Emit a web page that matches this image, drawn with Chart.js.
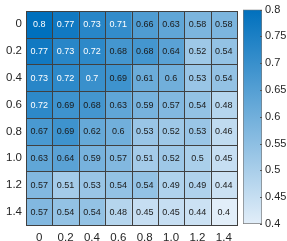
<!DOCTYPE html>
<html><head><meta charset="utf-8">
<script src="https://cdn.jsdelivr.net/npm/chart.js@4/dist/chart.umd.min.js"></script>
<style>
html,body{margin:0;padding:0;background:#fff;width:287px;height:241px;overflow:hidden}
#hm{position:absolute;left:0;top:0}
#cb{position:absolute;left:236px;top:0}
</style></head><body>
<canvas id="hm" width="240" height="241"></canvas>
<canvas id="cb" width="51" height="241"></canvas>
<script>
const colLabels = ['0','0.2','0.4','0.6','0.8','1.0','1.2','1.4'];
const rowLabels = ['0','0.2','0.4','0.6','0.8','1.0','1.2','1.4'];
const row_00 = [0.8, 0.77, 0.73, 0.71, 0.66, 0.63, 0.58, 0.58];
const row_02 = [0.77, 0.73, 0.72, 0.68, 0.68, 0.64, 0.52, 0.54];
const row_04 = [0.73, 0.72, 0.7, 0.69, 0.61, 0.6, 0.53, 0.54];
const row_06 = [0.72, 0.69, 0.68, 0.63, 0.59, 0.57, 0.54, 0.48];
const row_08 = [0.67, 0.69, 0.62, 0.6, 0.53, 0.52, 0.53, 0.46];
const row_10 = [0.63, 0.64, 0.59, 0.57, 0.51, 0.52, 0.5, 0.45];
const row_12 = [0.57, 0.51, 0.53, 0.54, 0.54, 0.49, 0.49, 0.44];
const row_14 = [0.57, 0.54, 0.54, 0.48, 0.45, 0.45, 0.44, 0.4];
const rows = [row_00, row_02, row_04, row_06, row_08, row_10, row_12, row_14];
const cbTicks = [0.4, 0.45, 0.5, 0.55, 0.6, 0.65, 0.7, 0.75, 0.8];

const vMin = 0.4, vMax = 0.8;
const cLow = [226, 238, 249], cHigh = [0, 112, 189];
function colorFor(v) {
  const t = Math.max(0, Math.min(1, (v - vMin) / (vMax - vMin)));
  const c = cLow.map((l, k) => Math.round(l + (cHigh[k] - l) * t));
  return `rgb(${c[0]},${c[1]},${c[2]})`;
}
const FONT = 'Liberation Sans, Arial, Helvetica, sans-serif';
const txt = '#262626';

const datasets = rows.map((vals, i) => ({
  data: vals.map(() => [i - 0.5, i + 0.5]),
  values: vals,
  backgroundColor: vals.map(colorFor),
  borderWidth: 0,
  grouped: false,
  barPercentage: 1,
  categoryPercentage: 1
}));

const cellPlugin = {
  id: 'cellLabels',
  afterDatasetsDraw(chart) {
    const ctx = chart.ctx;
    ctx.save();
    ctx.strokeStyle = '#404040';
    ctx.lineWidth = 1;
    chart.data.datasets.forEach((ds, di) => {
      chart.getDatasetMeta(di).data.forEach((el) => {
        const x0 = Math.round(el.x - el.width / 2) + 0.5;
        const x1 = Math.round(el.x + el.width / 2) + 0.5;
        const y0 = Math.round(Math.min(el.y, el.base)) + 0.5;
        const y1 = Math.round(Math.max(el.y, el.base)) + 0.5;
        ctx.strokeRect(x0, y0, x1 - x0, y1 - y0);
      });
    });
    ctx.font = '9px ' + FONT;
    ctx.textAlign = 'center';
    ctx.textBaseline = 'middle';
    chart.data.datasets.forEach((ds, di) => {
      const meta = chart.getDatasetMeta(di);
      meta.data.forEach((el, j) => {
        const v = ds.values[j];
        ctx.fillStyle = v >= 0.7 ? '#ffffff' : '#1a1a1a';
        ctx.fillText(String(v), el.x, (el.y + el.base) / 2 + 0.5);
      });
    });
    ctx.restore();
  }
};

new Chart(document.getElementById('hm'), {
  type: 'bar',
  data: { labels: colLabels, datasets },
  plugins: [cellPlugin],
  options: {
    responsive: false, animation: false,
    layout: { padding: { top: 4, right: 3, left: 0, bottom: 0 } },
    plugins: { legend: { display: false }, tooltip: { enabled: false } },
    scales: {
      x: {
        grid: { display: false, drawTicks: false },
        border: { display: false },
        ticks: { color: txt, font: { size: 11.5, family: FONT }, padding: 6, maxRotation: 0 },
        afterFit(s) { s.height = 16; }
      },
      y: {
        reverse: true,
        min: -0.5, max: 7.5,
        afterBuildTicks(s) { s.ticks = rowLabels.map((_, i) => ({ value: i })); },
        grid: { display: false, drawTicks: false },
        border: { display: false },
        ticks: { color: txt, font: { size: 11.5, family: FONT }, padding: 4,
                 callback: (v) => rowLabels[v] },
        afterFit(s) { s.width = 26; }
      }
    }
  }
});

const cbTickPlugin = {
  id: 'cbTicks',
  afterDatasetsDraw(chart) {
    const ctx = chart.ctx, ys = chart.scales.y, ca = chart.chartArea;
    ctx.save();
    ctx.strokeStyle = '#555';
    ctx.lineWidth = 1;
    cbTicks.forEach(v => {
      const y = Math.round(ys.getPixelForValue(v)) + 0.5;
      ctx.beginPath();
      ctx.moveTo(ca.right - 2, y);
      ctx.lineTo(ca.right, y);
      ctx.stroke();
    });
    ctx.restore();
  }
};

new Chart(document.getElementById('cb'), {
  type: 'bar',
  data: { labels: [''], datasets: [{
    data: [[vMin, vMax]],
    borderWidth: 1, borderColor: '#7a7a7a', borderSkipped: false,
    barPercentage: 1, categoryPercentage: 1,
    backgroundColor(ctx) {
      const ca = ctx.chart.chartArea;
      if (!ca) return colorFor(0.6);
      const g = ctx.chart.ctx.createLinearGradient(0, ca.bottom, 0, ca.top);
      g.addColorStop(0, colorFor(vMin));
      g.addColorStop(1, colorFor(vMax));
      return g;
    }
  }]},
  plugins: [cbTickPlugin],
  options: {
    responsive: false, animation: false,
    layout: { padding: { top: 4, left: 7, right: 0, bottom: 17 } },
    plugins: { legend: { display: false }, tooltip: { enabled: false } },
    scales: {
      x: { display: false },
      y: {
        position: 'right', min: vMin, max: vMax,
        afterBuildTicks(s) { s.ticks = cbTicks.map(v => ({ value: v })); },
        grid: { display: false, drawOnChartArea: false, drawTicks: false },
        border: { display: false },
        ticks: { color: txt, font: { size: 11, family: FONT }, padding: 3,
                 callback: (v) => String(Number(v.toFixed(2))) },
        afterFit(s) { s.width = 25; }
      }
    }
  }
});
</script>
</body></html>
